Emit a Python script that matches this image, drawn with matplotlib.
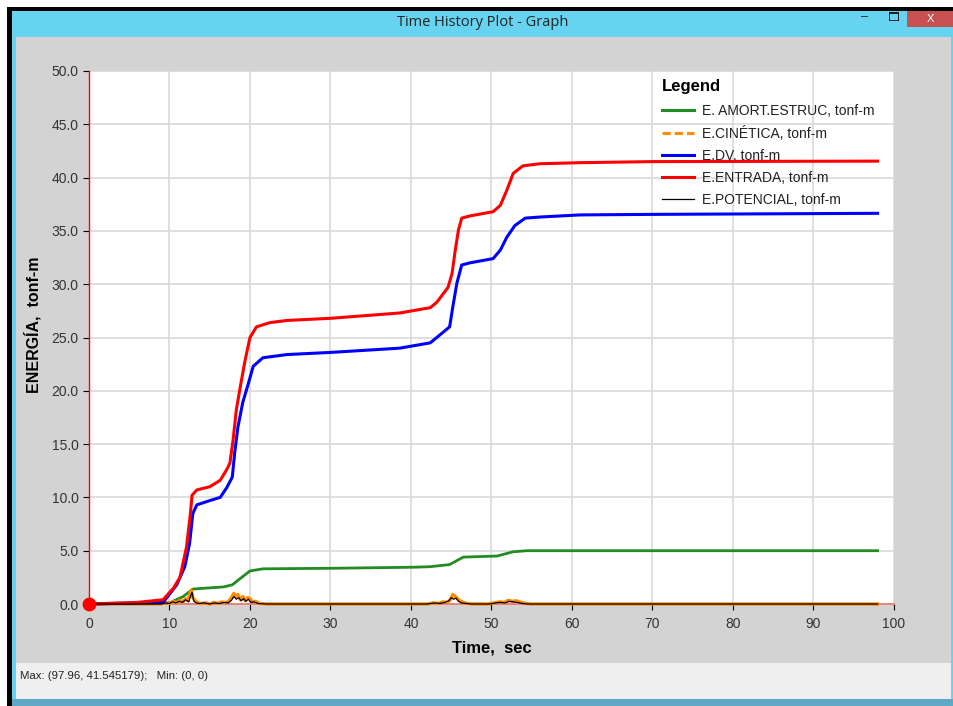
import matplotlib
matplotlib.use("Agg")
import matplotlib.pyplot as plt
from matplotlib.patches import Rectangle
from matplotlib.lines import Line2D

plt.rcParams['font.family'] = ['Liberation Sans', 'DejaVu Sans']

# time (sec) and energy (tonf-m)
t_amort = [0, 10.0, 11.7, 12.9, 14.7, 16.7, 17.8, 18.8, 20.0, 21.6, 30.0, 40.3, 42.4,
           44.8, 46.5, 50.7, 52.7, 54.4, 97.96]
e_amort = [0, 0.1, 0.7, 1.4, 1.5, 1.6, 1.8, 2.4, 3.1, 3.3, 3.35, 3.45, 3.5,
           3.7, 4.4, 4.5, 4.9, 5.0, 5.0]

t_cin = [0, 6.0, 9.0, 9.6, 10.1, 10.5, 10.9, 11.3, 11.7, 12.0,
         12.3, 12.5, 12.7, 12.9, 13.1, 13.4, 13.8, 14.5, 15.0, 15.5,
         16.0, 16.5, 17.0, 17.4, 17.7, 18.0, 18.2, 18.5, 18.8, 19.1,
         19.4, 19.7, 20.0, 20.3, 20.7, 21.2, 22.0, 42.0, 42.8, 43.4,
         44.0, 44.5, 44.9, 45.2, 45.5, 45.8, 46.1, 46.5, 47.0, 47.6,
         49.5, 50.3, 51.0, 51.6, 52.1, 52.6, 53.1, 53.7, 54.3, 55.0, 97.96]
e_cin = [0, 0, 0.0, 0.15, 0.05, 0.25, 0.1, 0.35, 0.2, 0.5,
         0.3, 0.9, 1.3, 0.6, 0.4, 0.15, 0.05, 0.1, 0.0, 0.15,
         0.05, 0.2, 0.1, 0.3, 0.6, 1.0, 0.7, 0.9, 0.4, 0.7,
         0.3, 0.6, 0.5, 0.2, 0.25, 0.05, 0.0, 0.0, 0.1, 0.05,
         0.2, 0.15, 0.4, 0.9, 0.7, 0.5, 0.3, 0.15, 0.05, 0.0,
         0.0, 0.1, 0.2, 0.15, 0.35, 0.25, 0.3, 0.15, 0.05, 0.0, 0.0]

t_dv = [0, 9.2, 10.9, 11.9, 12.5, 12.9, 13.4, 15.0, 16.3, 17.1, 17.8, 18.1, 18.5,
        19.1, 19.8, 20.4, 21.6, 24.6, 30, 38.6, 42.4, 43.2, 44.8, 45.2, 45.7, 46.3,
        47.3, 50.2, 51.1, 51.9, 52.9, 54.2, 56.0, 61.0, 70, 97.96]
e_dv = [0, 0.15, 1.8, 3.5, 5.7, 8.5, 9.3, 9.7, 10.0, 10.9, 11.9, 14.2, 16.6,
        18.9, 20.7, 22.3, 23.1, 23.4, 23.6, 24.0, 24.5, 25.0, 26.0, 27.9, 30.1, 31.8,
        32.0, 32.4, 33.2, 34.4, 35.5, 36.2, 36.3, 36.5, 36.55, 36.65]

t_entrada = [0, 6, 9.2, 10.5, 11.3, 12.1, 12.6, 12.8, 13.4, 15.0, 16.3, 17.1, 17.5,
             17.9, 18.3, 18.8, 19.4, 20.0, 20.8, 22.5, 24.6, 30, 38.6, 42.4, 43.2,
             44.6, 45.1, 45.5, 45.9, 46.3, 47.3, 50.2, 51.1, 51.9, 52.7, 53.9, 56.0,
             61.0, 70, 97.96]
e_entrada = [0.0, 0.15, 0.4, 1.5, 2.5, 5.3, 8.5, 10.2, 10.7, 11.0, 11.6, 12.6, 13.2,
             15.4, 18.2, 20.4, 22.9, 25.0, 26.0, 26.4, 26.6, 26.8, 27.3, 27.8, 28.3,
             29.7, 31.0, 33.2, 35.1, 36.2, 36.4, 36.8, 37.4, 38.8, 40.4, 41.1, 41.3,
             41.4, 41.5, 41.545]

t_pot = [0, 9.0, 9.5, 10.0, 10.4, 10.8, 11.2, 11.6, 12.0, 12.4,
         12.6, 12.8, 13.0, 13.3, 13.7, 14.3, 15.0, 15.6, 16.2, 16.8,
         17.3, 17.7, 18.0, 18.3, 18.6, 18.9, 19.2, 19.5, 19.8, 20.1,
         20.5, 21.0, 22.0, 42.0, 42.9, 43.6, 44.2, 44.7, 45.0, 45.3,
         45.6, 45.9, 46.3, 46.8, 47.5, 49.8, 50.5, 51.1, 51.7, 52.2,
         52.7, 53.2, 53.8, 54.5, 97.96]
e_pot = [0, 0.0, 0.1, 0.05, 0.2, 0.1, 0.25, 0.15, 0.4, 0.2,
         0.7, 1.1, 0.3, 0.1, 0.05, 0.1, 0.0, 0.1, 0.05, 0.15,
         0.1, 0.35, 0.7, 0.45, 0.6, 0.3, 0.5, 0.25, 0.45, 0.15,
         0.2, 0.05, 0.0, 0.0, 0.1, 0.05, 0.15, 0.3, 0.6, 0.45,
         0.55, 0.25, 0.1, 0.05, 0.0, 0.0, 0.1, 0.15, 0.1, 0.25,
         0.2, 0.15, 0.05, 0.0, 0.0]

labels = ["E. AMORT.ESTRUC, tonf-m", "E.CINÉTICA, tonf-m", "E.DV, tonf-m",
          "E.ENTRADA, tonf-m", "E.POTENCIAL, tonf-m"]
xticks = [0, 10, 20, 30, 40, 50, 60, 70, 80, 90, 100]
yticks = [0, 5, 10, 15, 20, 25, 30, 35, 40, 45, 50]

green, orange, blue, red = "#228b22", "#ff8c00", "#0000ff", "#ff0000"

W, H = 954, 706
fig = plt.figure(figsize=(W / 100, H / 100), dpi=100, facecolor="white")


def box(x0, y0, x1, y1, color):
    # pixel box, origin top-left
    fig.add_artist(Rectangle((x0 / W, 1 - y1 / H), (x1 - x0) / W, (y1 - y0) / H,
                             transform=fig.transFigure, facecolor=color,
                             edgecolor="none", zorder=-5))


# window frame
box(7, 7, W, H, "black")
box(12, 11, W, H, "#66d3f0")
box(16, 37, 951, 663, "#d3d3d3")
box(16, 663, 951, 699, "#efefef")
box(12, 699, W, H, "#5fa9c6")
box(907, 11, W, 27, "#c75050")
fig.text(930 / W, 1 - 19 / H, "X", color="white", fontsize=8, ha="center", va="center")
fig.text(865 / W, 1 - 17 / H, "–", color="#222222", fontsize=9, ha="center", va="center")
box(889, 12, 899, 21, "#222222")
box(890, 14, 898, 20, "#66d3f0")
fig.text(483 / W, 1 - 22 / H, "Time History Plot - Graph", color="#222222",
         fontsize=10.5, ha="center", va="center", family="Open Sans")
fig.text(20 / W, 1 - 676 / H, "Max: (97.96, 41.545179);   Min: (0, 0)",
         color="#222222", fontsize=8.2, ha="left", va="center")

ax = fig.add_axes([89 / W, 1 - 604 / H, 805 / W, 533 / H])
ax.set_facecolor("white")

ax.plot(t_amort, e_amort, color=green, lw=2.0, zorder=3, clip_on=False)
ax.plot(t_cin, e_cin, color=orange, lw=2.4, zorder=4, clip_on=False)
ax.plot(t_dv, e_dv, color=blue, lw=2.2, zorder=5, clip_on=False)
ax.plot(t_entrada, e_entrada, color=red, lw=2.2, zorder=6, clip_on=False)
ax.plot(t_pot, e_pot, color="black", lw=0.9, zorder=7, clip_on=False)

# cursor lines and marker at the minimum
ax.axvline(0, color=red, lw=1.0, zorder=8, clip_on=False)
ax.axhline(0, color="#f07070", lw=1.2, zorder=2, clip_on=False)
ax.plot([0], [0], "o", color=red, ms=9, zorder=9, clip_on=False)

ax.set_xlim(0, 100)
ax.set_ylim(0, 50)
ax.set_xticks(xticks)
ax.set_yticks(yticks)
ax.set_yticklabels(["%.1f" % v for v in yticks])
ax.grid(True, color="#d9d9d9", lw=1.2, zorder=0)
ax.set_axisbelow(True)
for s in ax.spines.values():
    s.set_visible(False)
ax.tick_params(direction="out", length=4.5, width=0.8, color="black",
               labelsize=10, labelcolor="#333333", pad=3)
ax.tick_params(axis="x", pad=5)

ax.set_xlabel("Time,  sec", fontsize=12, fontweight="bold", labelpad=7)
fig.text(33 / W, 1 - 325 / H, "ENERGÍA,  tonf-m", rotation=90, fontsize=11.5,
         fontweight="bold", ha="center", va="center")

handles = [Line2D([], [], color=green, lw=2.2),
           Line2D([], [], color=orange, lw=2.2, ls=(0, (2.7, 1.3))),
           Line2D([], [], color=blue, lw=2.2),
           Line2D([], [], color=red, lw=2.2),
           Line2D([], [], color="black", lw=0.9)]
leg = ax.legend(handles, labels, loc="upper left",
                bbox_to_anchor=(658 / W, 1 - 75 / H), bbox_transform=fig.transFigure,
                frameon=False, fontsize=10, title="Legend", alignment="left",
                title_fontproperties={"weight": "bold", "size": 12},
                handlelength=2.3, handletextpad=0.6, labelspacing=0.58,
                borderpad=0.3, borderaxespad=0)
leg._legend_box.sep = 7
for txt in leg.get_texts():
    txt.set_color("#222222")
leg.set_zorder(1)

fig.savefig("out.png", dpi=100, facecolor=fig.get_facecolor())
